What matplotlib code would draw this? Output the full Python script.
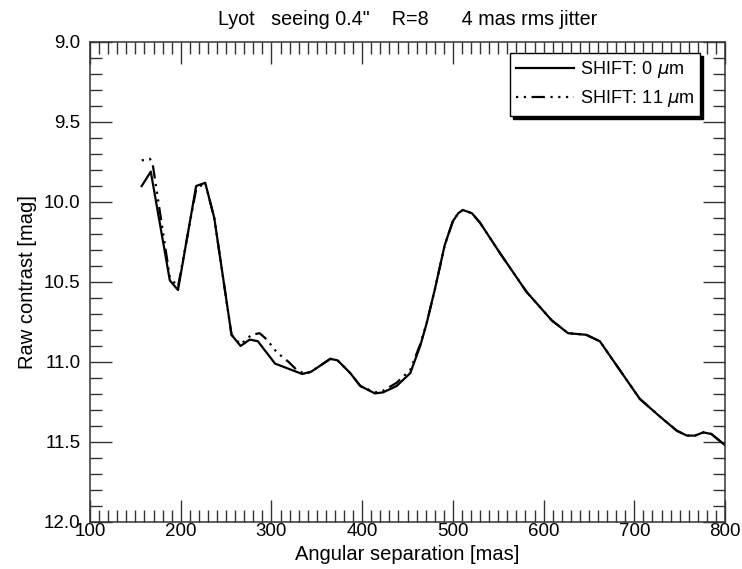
import numpy as np
import matplotlib
matplotlib.use('Agg')
from matplotlib import pyplot as plt
from matplotlib.ticker import MultipleLocator

plt.rcParams['font.family'] = ['Liberation Sans', 'DejaVu Sans']
plt.rcParams['mathtext.fontset'] = 'dejavusans'

# SHIFT 0 um
sep_0 = [157, 167, 188, 197, 217, 227, 237, 256, 266, 276, 285, 304, 334, 344,
         365, 373, 387, 398, 414, 423, 438, 453, 464, 471, 480, 491, 500, 506, 511,
         521, 530, 552, 581, 609, 627, 647, 662, 684, 706, 728, 747, 758, 767,
         776, 785, 800]
mag_0 = [9.90, 9.81, 10.49, 10.55, 9.90, 9.88, 10.10, 10.83, 10.90, 10.86, 10.87,
         11.01, 11.075, 11.06, 10.98, 10.99, 11.07, 11.15, 11.196, 11.19, 11.15,
         11.07, 10.90, 10.76, 10.55, 10.27, 10.12, 10.07, 10.05, 10.07, 10.13, 10.32,
         10.56, 10.74, 10.82, 10.83, 10.87, 11.05, 11.23, 11.34, 11.43, 11.46,
         11.46, 11.44, 11.45, 11.52]

# SHIFT 11 um
sep_11 = [157, 166, 169, 188, 197, 217, 227, 237, 256, 266, 278, 287, 295, 306,
          319, 328, 337, 344, 365, 373, 387, 398, 414, 423, 438, 453, 464, 471,
          480, 491, 500, 506, 511, 521, 530, 552, 581, 609, 627, 647, 662, 684, 706,
          728, 747, 758, 767, 776, 785, 800]
mag_11 = [9.74, 9.73, 9.76, 10.47, 10.53, 9.92, 9.88, 10.10, 10.83, 10.89, 10.83,
          10.82, 10.86, 10.94, 11.00, 11.05, 11.075, 11.06, 10.98, 10.99, 11.07,
          11.15, 11.19, 11.18, 11.13, 11.05, 10.89, 10.76, 10.55, 10.27, 10.12,
          10.07, 10.05, 10.07, 10.13, 10.32, 10.56, 10.74, 10.82, 10.83, 10.87, 11.05,
          11.23, 11.34, 11.43, 11.46, 11.46, 11.44, 11.45, 11.52]

fig = plt.figure(figsize=(7.42, 5.69), dpi=100)
ax = fig.add_axes([90/742, 1-522/569, 635/742, 480/569])

ax.plot(sep_0, mag_0, color='k', lw=1.6, label=r'SHIFT: 0 $\mu$m')
ax.plot(sep_11, mag_11, color='k', lw=1.6,
        ls=(0, (1, 2.5, 1, 2.5, 6, 2.5, 1, 2.5)), label=r'SHIFT: 11 $\mu$m')

ax.set_xlim(100, 800)
ax.set_ylim(12, 9)
ax.xaxis.set_major_locator(MultipleLocator(100))
ax.xaxis.set_minor_locator(MultipleLocator(10))
ax.yaxis.set_major_locator(MultipleLocator(0.5))
ax.yaxis.set_minor_locator(MultipleLocator(0.1))
ax.yaxis.set_major_formatter(matplotlib.ticker.FormatStrFormatter('%.1f'))
ax.tick_params(which='both', direction='in', top=True, right=True,
               width=1, color='#333333', labelsize=13.5)
ax.tick_params(which='major', length=16)
ax.tick_params(which='minor', length=8.5)
ax.tick_params(axis='x', pad=1)
ax.tick_params(axis='y', pad=7)
for s in ax.spines.values():
    s.set_linewidth(1.1)
    s.set_color('#333333')

ax.set_xlabel('Angular separation [mas]', fontsize=14.5, labelpad=3)
ax.set_ylabel('Raw contrast [mag]', fontsize=14.5, labelpad=5)
ax.set_title('Lyot   seeing 0.4"    R=8      4 mas rms jitter', fontsize=14.2, pad=12)

leg = ax.legend(loc='upper right', bbox_to_anchor=(0.961, 0.977), fontsize=13,
                fancybox=False, framealpha=1, edgecolor='k', handlelength=3.2,
                handletextpad=0.3, borderpad=0.35, labelspacing=0.45,
                borderaxespad=0, shadow={'color': 'k', 'alpha': 1})
leg.get_frame().set_linewidth(1)

plt.savefig('out.png', dpi=100)
